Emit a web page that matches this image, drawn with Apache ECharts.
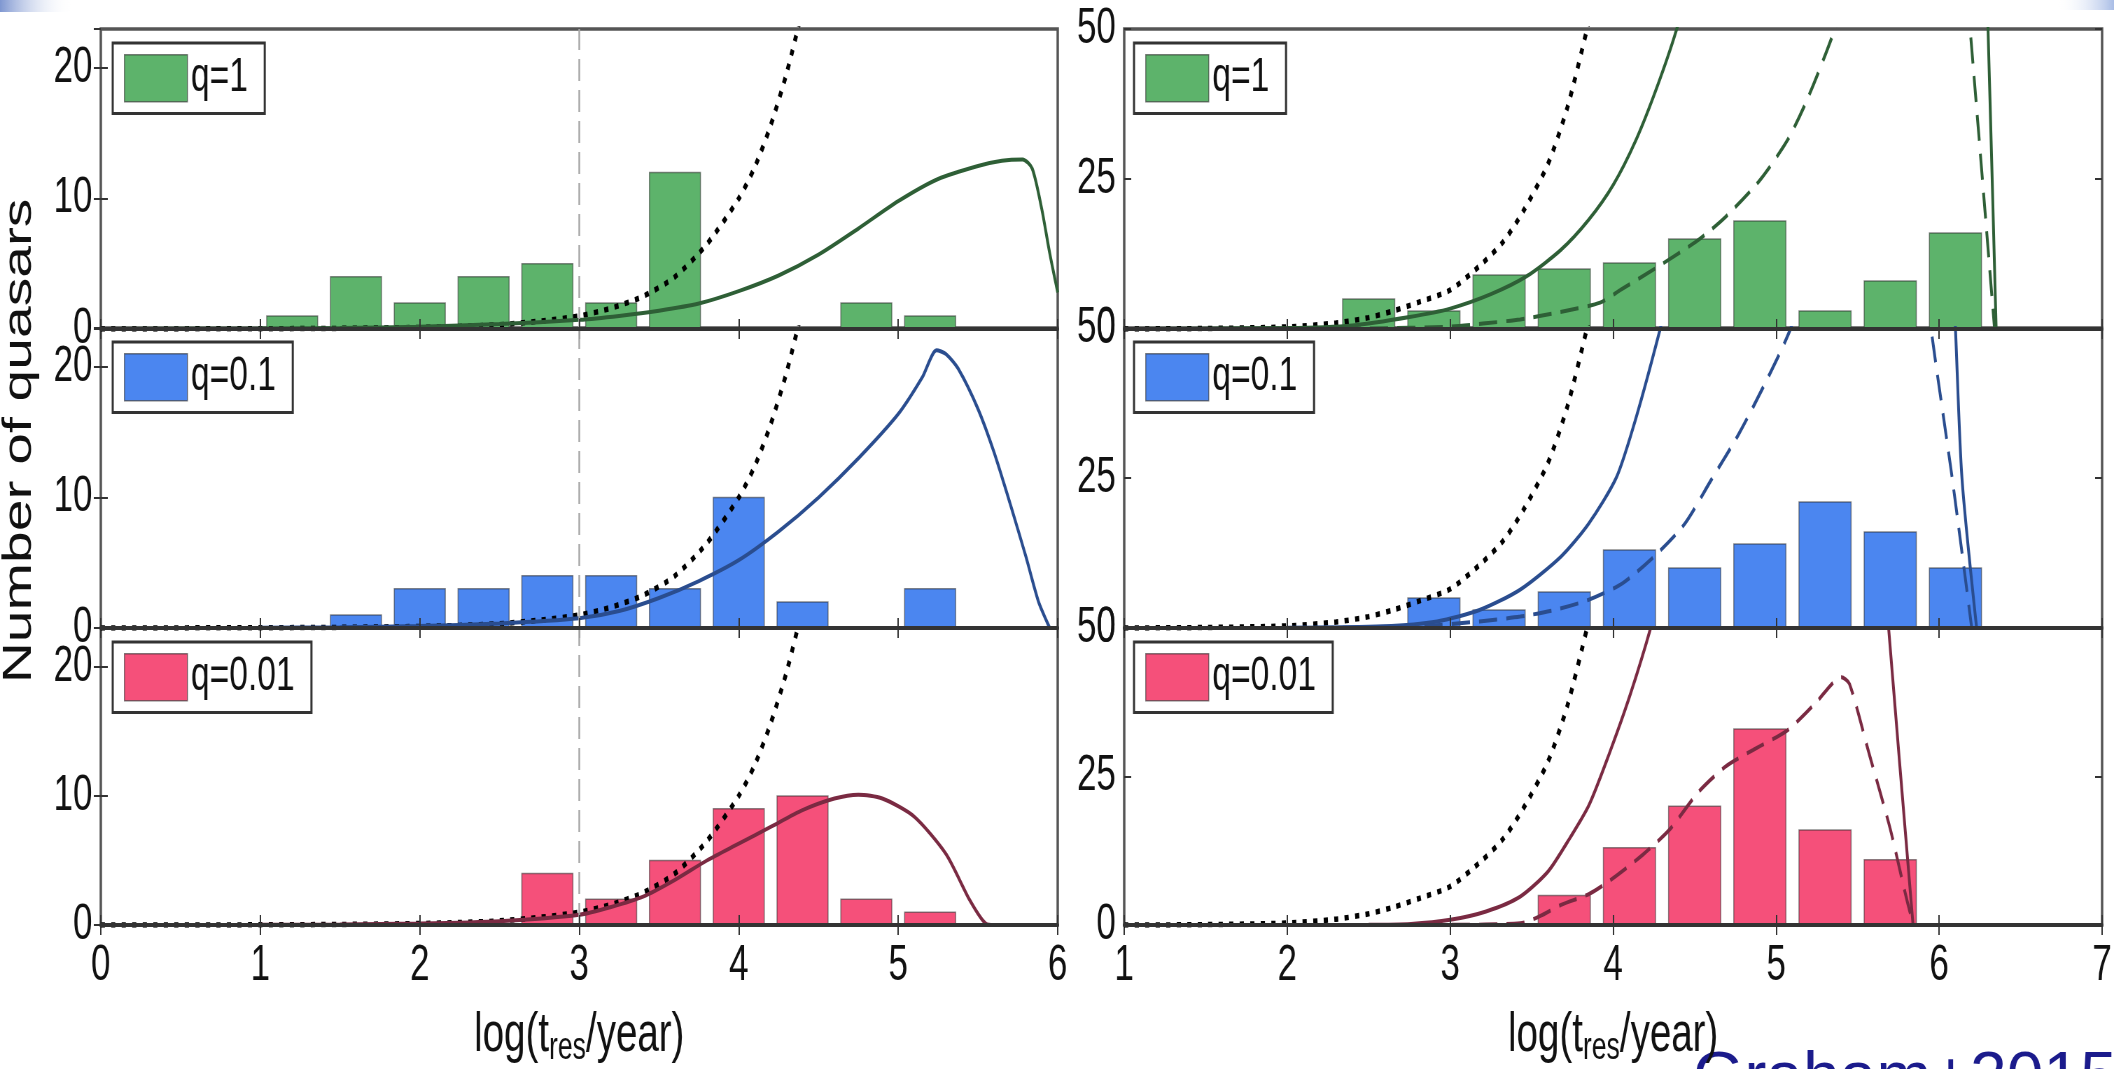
<!DOCTYPE html>
<html>
<head>
<meta charset="utf-8">
<title>Number of quasars vs log(t_res/year)</title>
<script src="https://cdn.jsdelivr.net/npm/echarts@6/dist/echarts.min.js"></script>
<style>
html, body { margin: 0; padding: 0; background: #fff; overflow: hidden; }
/* 原图整体横向被压扁，这里画宽一点再横向缩放回 2114px */
#echarts { width: 3020px; height: 1069px; transform: scaleX(0.7); transform-origin: 0 0; }
</style>
</head>
<body>
<div id="echarts"></div>
<script>
var SX = 0.7 // 横向压缩比例

// 三个质量比
var qNames = ['q=1', 'q=0.1', 'q=0.01']

// 坐标轴刻度
var xTicksLeft = [0, 1, 2, 3, 4, 5, 6]
var xTicksRight = [1, 2, 3, 4, 5, 6, 7]
var yTicksLeft = [0, 10, 20]
var yTicksRight = [0, 25, 50]
var yMaxLeft = 23
var yMaxRight = 50

// 直方图 bin 中心和宽度
var leftBins = [1.2, 1.6, 2.0, 2.4, 2.8, 3.2, 3.6, 4.0, 4.4, 4.8, 5.2]
var rightBins = [2.5, 2.9, 3.3, 3.7, 4.1, 4.5, 4.9, 5.3, 5.7, 6.1]
var binWidth = 0.32

// 左图柱子
var leftCountsQ1 = [1, 4, 2, 4, 5, 2, 12, 0, 0, 2, 1]
var leftCountsQ01 = [0, 1, 3, 3, 4, 4, 3, 10, 2, 0, 3]
var leftCountsQ001 = [0, 0, 0, 0, 4, 2, 5, 9, 10, 2, 1]
// 右图柱子
var rightCountsQ1 = [5, 3, 9, 10, 11, 15, 18, 3, 8, 16]
var rightCountsQ01 = [0, 5, 3, 6, 13, 10, 14, 21, 16, 10]
var rightCountsQ001 = [0, 0, 0, 5, 13, 20, 33, 16, 11, 0]

// 左图曲线
var leftDotted = [[0,0],[1,0.02],[1.5,0.05],[2,0.12],[2.25,0.2],[2.5,0.33],[2.75,0.6],[3,1.0],[3.2,1.6],[3.4,2.5],[3.6,4.0],[3.8,6.5],[4.0,10],[4.1,12.4],[4.2,15.6],[4.3,19.6],[4.4,24.5]]
var leftSolidQ1 = [[0,0],[1,0.03],[1.5,0.08],[2,0.18],[2.5,0.38],[3,0.7],[3.25,1.0],[3.5,1.4],[3.75,1.95],[4,2.9],[4.25,4.1],[4.5,5.7],[4.75,7.7],[5,9.8],[5.25,11.5],[5.5,12.5],[5.65,12.9],[5.78,13.0],[5.84,12.3],[5.9,9.2],[5.95,5.8],[6,2.8]]
var leftSolidQ01 = [[0,0],[1,0.02],[1.5,0.06],[2,0.15],[2.5,0.35],[3,0.75],[3.25,1.3],[3.5,2.3],[3.75,3.6],[4,5.2],[4.25,7.4],[4.5,10],[4.75,13],[5,16.4],[5.15,19.2],[5.24,21.3],[5.3,21.0],[5.38,19.8],[5.5,16.8],[5.6,13.5],[5.7,9.6],[5.8,5.5],[5.88,2.0],[5.95,0]]
var leftSolidQ001 = [[0,0],[1,0.02],[1.5,0.05],[2,0.12],[2.5,0.3],[3,0.8],[3.2,1.4],[3.4,2.2],[3.6,3.5],[3.8,5.0],[4,6.3],[4.2,7.6],[4.4,8.9],[4.6,9.8],[4.75,10.1],[4.9,9.8],[5.1,8.4],[5.3,5.5],[5.45,1.9],[5.55,0.1],[5.6,0]]

// 右图曲线（'-' 表示断开，超出 50 的部分被裁掉）
var rightDotted = [[1,0],[1.5,0.08],[2,0.35],[2.3,1.0],[2.5,1.9],[2.65,3.0],[2.8,4.4],[3.0,6.5],[3.2,11],[3.33,14.7],[3.45,19.7],[3.6,27.5],[3.72,37],[3.84,50],[3.9,57]]
var rightSolidQ1 = [[1,0],[2,0.15],[2.4,0.6],[2.75,2.0],[3.0,3.4],[3.25,5.8],[3.47,8.8],[3.68,13.2],[3.85,18.2],[4.0,24],[4.14,31.5],[4.27,40.4],[4.39,50],[4.43,55],[5.3,'-'],[6.29,55],[6.30,50],[6.35,0]]
var rightDashedQ1 = [[1,0],[2.5,0.1],[3.0,0.4],[3.2,0.9],[3.43,1.6],[3.65,2.7],[3.92,4.4],[4.05,6.6],[4.27,10.3],[4.52,14.8],[4.69,18.7],[4.9,24.8],[5.07,31.5],[5.19,38.2],[5.36,50],[5.4,55],[5.8,'-'],[6.17,55],[6.19,50],[6.34,0]]
var rightSolidQ01 = [[1,0],[2,0.05],[2.59,0.3],[2.92,1.1],[3.18,3.0],[3.43,6.4],[3.68,11.9],[3.85,17.4],[4.02,25.1],[4.14,35],[4.29,50],[4.33,55],[5.2,'-'],[6.09,55],[6.10,50],[6.14,25],[6.23,0]]
var rightDashedQ01 = [[1,0],[2.5,0.05],[2.84,0.3],[3.18,1.1],[3.43,1.9],[3.64,3.0],[3.85,4.7],[4.06,7.5],[4.27,12.4],[4.44,17.4],[4.6,24.6],[4.77,32.3],[4.94,41.2],[5.09,50],[5.13,55],[5.5,'-'],[5.94,55],[5.95,50],[6.08,25],[6.2,0]]
var rightSolidQ001 = [[1,0],[2.5,0.05],[2.76,0.2],[3.0,0.9],[3.22,2.3],[3.43,4.8],[3.6,9.0],[3.72,14],[3.85,20.1],[3.97,28.4],[4.1,38.4],[4.23,50],[4.27,55],[5,'-'],[5.68,55],[5.69,50],[5.84,0]]
var rightDashedQ001 = [[1,0],[3.0,0.05],[3.43,0.3],[3.55,1.5],[3.68,3.4],[3.85,5.2],[3.97,7.3],[4.18,11.8],[4.35,16.2],[4.52,22.3],[4.69,26.7],[4.86,29.5],[5.07,32.8],[5.24,37.3],[5.4,41.7],[5.45,40.6],[5.57,28.9],[5.7,16.2],[5.82,2.3],[5.86,0]]

// 颜色
var barColors = ['#5db36b', '#4b86f0', '#f5507a']
var lineColors = ['#2e5f36', '#2a4d8f', '#7a2a42']

var fontFam = 'Liberation Sans, Arial, Helvetica, sans-serif'
var panelTop = [29, 328, 628]
var panelH = 300

var grids = [], xAxes = [], yAxes = [], series = [], legends = []

function renderBars(params, api) {
  var x = api.value(0), v = api.value(1)
  if (!(v > 0)) return null
  var tl = api.coord([x - binWidth / 2, v])
  var br = api.coord([x + binWidth / 2, 0])
  return {
    type: 'rect',
    shape: { x: tl[0], y: tl[1], width: br[0] - tl[0], height: br[1] - tl[1] },
    style: { fill: api.visual('color'), stroke: 'rgba(45,45,45,0.55)', lineWidth: 1.5 }
  }
}

function lineSeries(g, data, color, type, width) {
  return {
    type: 'line', xAxisIndex: g * 2, yAxisIndex: g * 2, data: data,
    showSymbol: false, symbol: 'none', smooth: 0.25,
    clip: true, silent: true, z: 3,
    lineStyle: { color: color, width: width, type: type }
  }
}

function addPanel(isLeft, row, counts, curves) {
  var g = grids.length
  var gridLeft = isLeft ? 144 : 1606
  var xt = isLeft ? xTicksLeft : xTicksRight
  var yt = isLeft ? yTicksLeft : yTicksRight
  grids.push({
    left: gridLeft, width: isLeft ? 1367 : 1397,
    top: panelTop[row], height: panelH,
    show: true, borderColor: '#555', borderWidth: 3.5
  })
  var xBase = {
    type: 'value', gridIndex: g, min: xt[0], max: xt[xt.length - 1], interval: xt[1] - xt[0],
    splitLine: { show: false },
    axisTick: { inside: true, length: 10, lineStyle: { color: '#333', width: 2 } }
  }
  // 底部 x 轴
  xAxes.push(Object.assign({}, xBase, {
    position: 'bottom', z: 5,
    axisLine: { show: true, onZero: false, lineStyle: { color: '#333', width: 4 } },
    axisLabel: { show: row === 2, fontSize: 50, color: '#111', fontFamily: fontFam, margin: 16 },
    name: row === 2 ? '{a|log(t}{b|res}{a|/year)}' : '',
    nameLocation: 'middle', nameGap: 53,
    nameTextStyle: {
      rich: {
        a: { fontSize: 55, fontFamily: fontFam, color: '#111', lineHeight: 60, verticalAlign: 'top' },
        b: { fontSize: 38, fontFamily: fontFam, color: '#111', lineHeight: 42, padding: [38, 0, 0, 0], verticalAlign: 'bottom' }
      }
    }
  }))
  // 顶部 x 轴，只有刻度
  xAxes.push(Object.assign({}, xBase, {
    position: 'top', axisLine: { show: false }, axisLabel: { show: false }
  }))
  var yBase = {
    type: 'value', gridIndex: g, min: 0, max: isLeft ? yMaxLeft : yMaxRight, interval: yt[1] - yt[0],
    splitLine: { show: false },
    axisLine: { show: false },
    axisTick: { inside: true, length: 10, lineStyle: { color: '#333', width: 2 } }
  }
  yAxes.push(Object.assign({}, yBase, {
    position: 'left',
    axisLabel: { fontSize: 50, color: '#111', fontFamily: fontFam, margin: 12, showMaxLabel: !isLeft }
  }))
  yAxes.push(Object.assign({}, yBase, { position: 'right', axisLabel: { show: false } }))

  var bins = isLeft ? leftBins : rightBins
  series.push({
    type: 'custom', name: qNames[row], xAxisIndex: g * 2, yAxisIndex: g * 2,
    data: bins.map(function (b, i) { return [b, counts[i]] }),
    renderItem: renderBars, z: 2,
    itemStyle: { color: barColors[row], borderColor: 'rgba(45,45,45,0.55)', borderWidth: 1.5 }
  })
  // 黑色点线
  var dotted = lineSeries(g, isLeft ? leftDotted : rightDotted, '#000', [6, 9], 5.5)
  if (isLeft) {
    // log t = 3 处的灰色虚线
    dotted.markLine = {
      silent: true, symbol: ['none', 'none'], label: { show: false },
      lineStyle: { color: '#a8a8a8', type: [22, 9], width: 2.5 },
      data: [{ xAxis: 3 }]
    }
  }
  series.push(dotted)
  series.push(lineSeries(g, curves.solid, lineColors[row], 'solid', 4))
  if (curves.dashed) series.push(lineSeries(g, curves.dashed, lineColors[row], [26, 13], 4))

  legends.push({
    data: [qNames[row]], left: isLeft ? 161 : 1620, top: panelTop[row] + 14,
    icon: 'rect', itemWidth: 90, itemHeight: 47, selectedMode: false,
    backgroundColor: '#fff', borderColor: '#333', borderWidth: 3,
    padding: [11, 24, 11, 16],
    textStyle: { fontSize: 48, color: '#111', fontFamily: fontFam },
    itemStyle: { borderColor: 'rgba(45,45,45,0.6)', borderWidth: 1.5 }
  })
}

addPanel(true, 0, leftCountsQ1, { solid: leftSolidQ1 })
addPanel(true, 1, leftCountsQ01, { solid: leftSolidQ01 })
addPanel(true, 2, leftCountsQ001, { solid: leftSolidQ001 })
addPanel(false, 0, rightCountsQ1, { solid: rightSolidQ1, dashed: rightDashedQ1 })
addPanel(false, 1, rightCountsQ01, { solid: rightSolidQ01, dashed: rightDashedQ01 })
addPanel(false, 2, rightCountsQ001, { solid: rightSolidQ001, dashed: rightDashedQ001 })

var myChart = echarts.init(document.getElementById('echarts'))
let option = {
  animation: false,
  backgroundColor: '#fff',
  grid: grids,
  xAxis: xAxes,
  yAxis: yAxes,
  legend: legends,
  series: series,
  graphic: [
    // 纵轴标题
    {
      type: 'text', x: 28.6, y: 441, rotation: Math.PI / 2,
      style: { text: 'Number of quasars', fontSize: 57, fontFamily: fontFam, fill: '#111', align: 'center', verticalAlign: 'middle' }
    },
    // 右下角出处（不压缩）
    {
      type: 'text', x: 1693 / SX, y: 1047, scaleX: 1 / SX,
      style: { text: 'Graham+2015', fontSize: 66, fontFamily: fontFam, fill: '#1b1b8c', align: 'left', verticalAlign: 'top' }
    },
    // 幻灯片角落的渐变装饰
    {
      type: 'rect', x: 0, y: 0, shape: { width: 72 / SX, height: 12 },
      style: { fill: new echarts.graphic.LinearGradient(0, 0, 1, 0, [{ offset: 0, color: '#7f97d1' }, { offset: 1, color: 'rgba(255,255,255,0)' }]) }
    },
    {
      type: 'rect', x: 2057 / SX, y: 0, shape: { width: 57 / SX, height: 10 },
      style: { fill: new echarts.graphic.LinearGradient(0, 0, 1, 0, [{ offset: 0, color: 'rgba(255,255,255,0)' }, { offset: 1, color: '#a9bde6' }]) }
    }
  ]
}
myChart.setOption(option)
</script>
</body>
</html>
